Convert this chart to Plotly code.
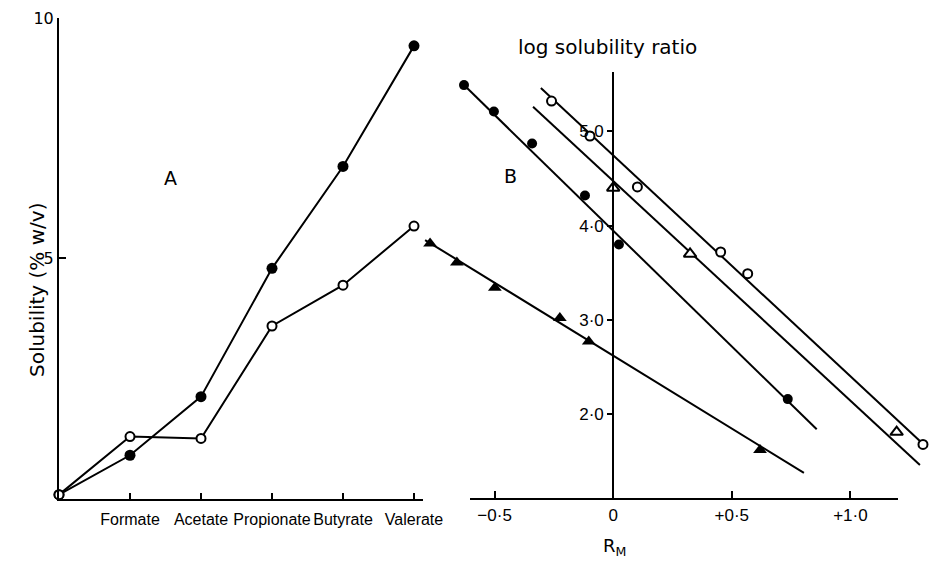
import plotly.graph_objects as go

W, H = 929, 561

# ---------------- Panel A data ----------------
salts = ["Formate", "Acetate", "Propionate", "Butyrate", "Valerate"]
salt_pos = [0, 1, 2, 3, 4, 5]          # 0 = origin (no salt)
sol_filled = [0.08, 0.90, 2.12, 4.79, 6.91, 9.42]
sol_open = [0.08, 1.29, 1.25, 3.59, 4.44, 5.67]

# ---------------- Panel B data (RM vs log solubility ratio) ----------------
rm_fc = [-0.629, -0.503, -0.342, -0.119, 0.024, 0.736]
ls_fc = [5.49, 5.21, 4.87, 4.32, 3.80, 2.16]
rm_oc = [-0.260, -0.098, 0.102, 0.453, 0.567, 1.306]
ls_oc = [5.32, 4.95, 4.41, 3.72, 3.49, 1.68]
rm_ot = [0.000, 0.324, 1.195]
ls_ot = [4.40, 3.70, 1.81]
rm_ft = [-0.772, -0.659, -0.499, -0.225, -0.103, 0.619]
ls_ft = [3.81, 3.61, 3.34, 3.02, 2.77, 1.62]

# fitted lines (end points)
fit_fc_x, fit_fc_y = [-0.629, 0.858], [5.49, 1.84]
fit_oc_x, fit_oc_y = [-0.305, 1.293], [5.46, 1.716]
fit_ot_x, fit_ot_y = [-0.338, 1.293], [5.26, 1.461]
fit_ft_x, fit_ft_y = [-0.793, 0.804], [3.847, 1.377]

b_xticks = [-0.5, 0, 0.5, 1.0]
b_xticktext = ["\u22120\u00b75", "0", "+0\u00b75", "+1\u00b70"]
b_yticks = [2, 3, 4, 5]
b_yticktext = ["2\u00b70", "3\u00b70", "4\u00b70", "5\u00b70"]
a_yticks = [5, 10]

# ---------------- pixel calibration (page pixels -> paper fractions) ----------------
def px(x):
    return x / W

def py(y):
    return 1 - y / H

# panel A
a_x0, a_x1 = 59, 423
a_step = 71.0
a_y0, a_y1 = 498.5, 18.0   # pixel of 0 and 10
# panel B
b_left, b_right = 420, W
b_zero, b_scale = 613.2, 237.2
b_top, b_bot = 72, 499
b_y0px, b_yscale = 602.8, 94.3

BLACK = "black"
fig = go.Figure()

# Panel A traces
fig.add_trace(go.Scatter(x=salt_pos, y=sol_filled, mode="lines+markers",
                         line=dict(color=BLACK, width=2),
                         marker=dict(symbol="circle", size=11, color=BLACK),
                         cliponaxis=False, xaxis="x", yaxis="y"))
fig.add_trace(go.Scatter(x=salt_pos, y=sol_open, mode="lines+markers",
                         line=dict(color=BLACK, width=2),
                         marker=dict(symbol="circle", size=9, color="white",
                                     line=dict(color=BLACK, width=2)),
                         cliponaxis=False, xaxis="x", yaxis="y"))

# Panel B fitted lines
for fx, fy in [(fit_fc_x, fit_fc_y), (fit_oc_x, fit_oc_y),
               (fit_ot_x, fit_ot_y), (fit_ft_x, fit_ft_y)]:
    fig.add_trace(go.Scatter(x=fx, y=fy, mode="lines",
                             line=dict(color=BLACK, width=2),
                             cliponaxis=False, xaxis="x2", yaxis="y2"))

# Panel B markers
fig.add_trace(go.Scatter(x=rm_fc, y=ls_fc, mode="markers",
                         marker=dict(symbol="circle", size=10, color=BLACK),
                         cliponaxis=False, xaxis="x2", yaxis="y2"))
fig.add_trace(go.Scatter(x=rm_oc, y=ls_oc, mode="markers",
                         marker=dict(symbol="circle", size=9, color="white",
                                     line=dict(color=BLACK, width=2)),
                         cliponaxis=False, xaxis="x2", yaxis="y2"))
fig.add_trace(go.Scatter(x=rm_ot, y=ls_ot, mode="markers",
                         marker=dict(symbol="triangle-up", size=11, color="white",
                                     line=dict(color=BLACK, width=2)),
                         cliponaxis=False, xaxis="x2", yaxis="y2"))
fig.add_trace(go.Scatter(x=rm_ft, y=ls_ft, mode="markers",
                         marker=dict(symbol="triangle-up", size=12, color=BLACK),
                         cliponaxis=False, xaxis="x2", yaxis="y2"))

tickfont = dict(family="Liberation Sans, Arial, sans-serif", size=16, color=BLACK)

fig.update_layout(
    width=W, height=H, autosize=False,
    margin=dict(l=0, r=0, t=0, b=0, pad=0, autoexpand=False),
    paper_bgcolor="white", plot_bgcolor="white",
    showlegend=False, hovermode=False,
    xaxis=dict(domain=[px(a_x0), px(a_x1)],
               range=[0, (a_x1 - a_x0) / a_step],
               tickmode="array", tickvals=salt_pos[1:], ticktext=salts,
               ticks="inside", ticklen=6, tickwidth=2, tickcolor=BLACK,
               showline=True, linewidth=2.5, linecolor=BLACK,
               showgrid=False, zeroline=False, anchor="y", automargin=False,
               tickfont=tickfont, ticklabelstandoff=5),
    yaxis=dict(domain=[py(a_y0), py(a_y1)], range=[0, 10],
               tickmode="array", tickvals=a_yticks,
               ticks="inside", ticklen=7, tickwidth=2, tickcolor=BLACK,
               showline=True, linewidth=2, linecolor=BLACK,
               showgrid=False, zeroline=False, anchor="x", automargin=False,
               tickfont=dict(family="DejaVu Sans, sans-serif", size=16, color=BLACK)),
    xaxis2=dict(domain=[px(b_left), px(b_right)],
                range=[(b_left - b_zero) / b_scale, (b_right - b_zero) / b_scale],
                tickmode="array", tickvals=b_xticks, ticktext=b_xticktext,
                ticks="inside", ticklen=8, tickwidth=2, tickcolor=BLACK,
                showline=False, showgrid=False, zeroline=False, anchor="y2",
                automargin=False,
                tickfont=dict(family="Liberation Sans, Arial, sans-serif", size=17, color=BLACK),
                ticklabelstandoff=4),
    yaxis2=dict(domain=[py(b_bot), py(b_top)],
                range=[(b_y0px - b_bot) / b_yscale, (b_y0px - b_top) / b_yscale],
                tickmode="array", tickvals=b_yticks, ticktext=b_yticktext,
                ticks="outside", ticklen=5, tickwidth=2, tickcolor=BLACK,
                showline=True, linewidth=2, linecolor=BLACK,
                showgrid=False, zeroline=False, automargin=False,
                anchor="free", position=px(b_zero),
                tickfont=dict(family="Liberation Sans, Arial, sans-serif", size=17, color=BLACK)),
    shapes=[dict(type="line", xref="x2", yref="y2 domain",
                 x0=(470 - b_zero) / b_scale, x1=(898 - b_zero) / b_scale,
                 y0=0, y1=0, line=dict(color=BLACK, width=2))],
    annotations=[
        dict(text="A", x=px(162), y=py(165), xref="paper", yref="paper",
             showarrow=False, font=dict(family="DejaVu Sans, sans-serif", size=19, color=BLACK)),
        dict(text="B", x=px(511), y=py(163), xref="paper", yref="paper",
             showarrow=False, font=dict(family="DejaVu Sans, sans-serif", size=19, color=BLACK)),
        dict(text="log solubility ratio", x=px(607), y=py(33), xref="paper", yref="paper",
             showarrow=False, font=dict(family="DejaVu Sans, sans-serif", size=20, color=BLACK)),
        dict(text="R<sub>M</sub>", x=px(614), y=py(533), xref="paper", yref="paper",
             yanchor="top", showarrow=False,
             font=dict(family="DejaVu Sans, sans-serif", size=18, color=BLACK)),
        dict(text="Solubility (% w/v)", x=px(23), y=py(290), xref="paper", yref="paper",
             textangle=-90, showarrow=False,
             font=dict(family="DejaVu Sans, sans-serif", size=20, color=BLACK)),
    ],
)

# remove the page's default body margin so the figure sits at the window's corner
fig.write_html("out.html",
               config={"displayModeBar": False, "staticPlot": True},
               post_script="document.body.style.margin='0';document.body.style.overflow='hidden';")
